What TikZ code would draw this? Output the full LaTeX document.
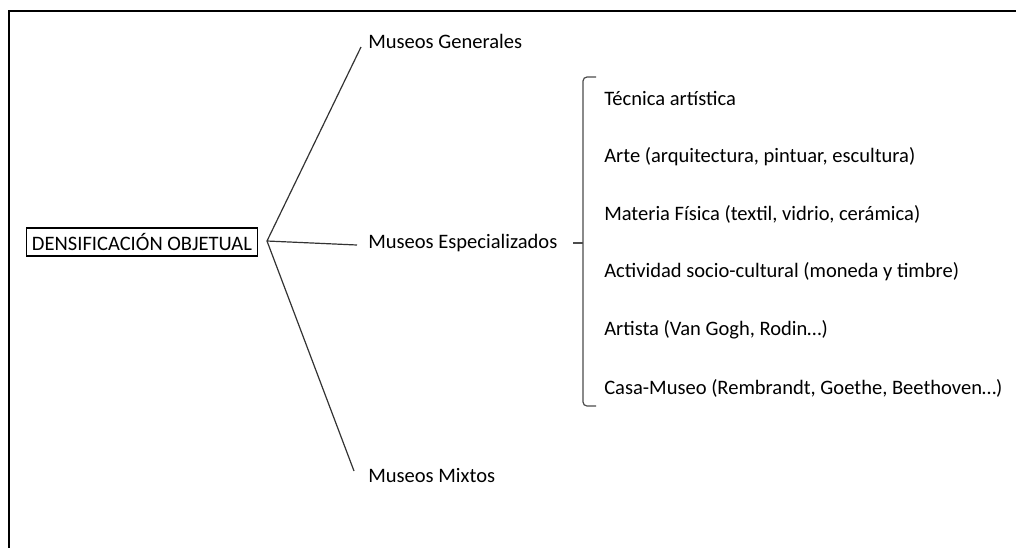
\documentclass[tikz,border=0pt]{standalone}
\usepackage{fontspec}
\setmainfont{Carlito}
\begin{document}
\begin{tikzpicture}[x=0.75pt,y=-0.75pt,
  lbl/.style={anchor=west,inner sep=0pt,font=\fontsize{15.4}{18}\selectfont},
  conn/.style={draw=black!80,line width=0.9pt},
  frame/.style={draw=black,line width=1.5pt}]
\useasboundingbox (0,0) rectangle (1016,547);
\draw[frame] (9,560) -- (9,11) -- (1030,11);
\node[draw,line width=0.9pt,inner xsep=4pt,inner ysep=4pt,font=\fontsize{15.4}{18}\selectfont] (root) at (142,242) {DENSIFICACIÓN OBJETUAL};
\coordinate (hub) at (267,241);
\node[lbl] (mg) at (368,41) {Museos Generales};
\node[lbl] (me) at (368,243) {Museos Especializados};
\node[lbl] (mm) at (368,475) {Museos Mixtos};
\coordinate (mgend) at (361,47);
\coordinate (meend) at (357,245);
\coordinate (mmend) at (354,471);
\draw[conn] (mgend) -- (hub) -- (mmend);
\draw[conn] (hub) -- (meend);
\coordinate (btop) at (596,77);
\coordinate (bbot) at (596,406);
\coordinate (bmid) at (583,243);
\coordinate (btip) at (573,243);
\draw[conn,draw=black!70,rounded corners=3pt] (btop) -- (583,77) -- (583,406) -- (bbot);
\draw[conn,draw=black!70] (bmid) -- (btip);
\node[lbl] (i1) at (604,98) {Técnica artística};
\node[lbl] (i2) at (604,157) {Arte (arquitectura, pintuar, escultura)};
\node[lbl] (i3) at (604,214) {Materia Física (textil, vidrio, cerámica)};
\node[lbl] (i4) at (604,272) {Actividad socio-cultural (moneda y timbre)};
\node[lbl] (i5) at (604,330) {Artista (Van Gogh, Rodin…)};
\node[lbl] (i6) at (604,388) {Casa-Museo (Rembrandt, Goethe, Beethoven…)};
\end{tikzpicture}
\end{document}
